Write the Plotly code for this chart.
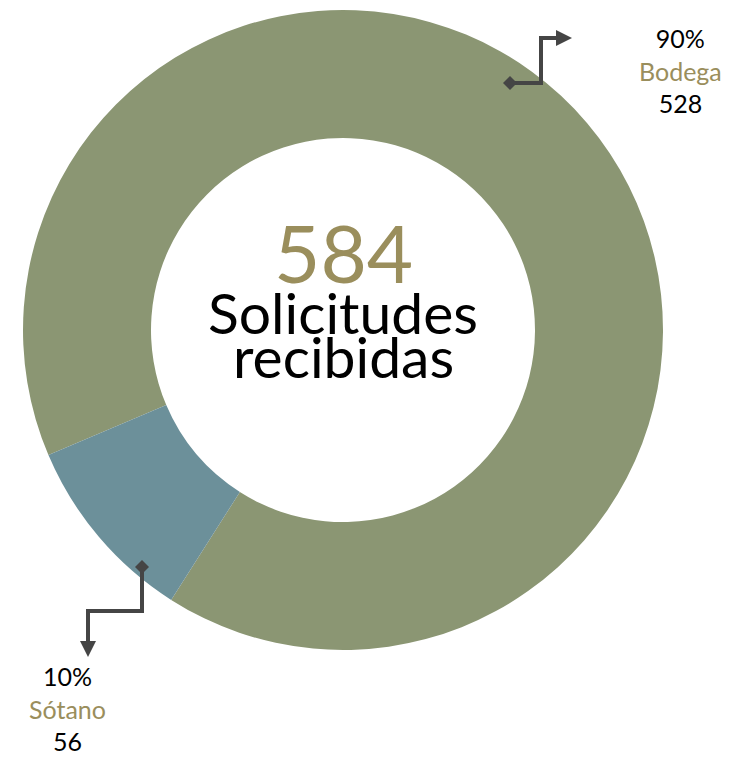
import plotly.graph_objects as go

labels = ["Bodega", "Sótano"]
values = [528, 56]
colors = ["#8b9673", "#6c909a"]
center_lines = ["Solicitudes", "recibidas"]

W, H = 750, 757
def px(x): return x / W
def py(y): return 1 - y / H

total = sum(values)
pcts = [round(v / total * 100) for v in values]

cx, cy, R = 343, 330, 320
fig = go.Figure(go.Pie(
    labels=labels, values=values, hole=0.6, sort=False,
    direction="clockwise", rotation=247,
    marker=dict(colors=colors, line=dict(width=0)),
    textinfo="none", showlegend=False,
    domain=dict(x=[px(cx - R), px(cx + R)], y=[py(cy + R), py(cy - R)]),
))

FONT = "Lato"
OLIVE = "#9a8e5c"
LINE = "#454545"

ann = []
ann.append(dict(x=px(cx), y=py(252), text=str(total), showarrow=False,
                font=dict(family=FONT, size=80, color=OLIVE), xanchor="center", yanchor="middle"))
ann.append(dict(x=px(cx), y=py(312), text=center_lines[0], showarrow=False,
                font=dict(family=FONT, size=57, color="#000000"), xanchor="center", yanchor="middle"))
ann.append(dict(x=px(cx), y=py(356), text=center_lines[1], showarrow=False,
                font=dict(family=FONT, size=57, color="#000000"), xanchor="center", yanchor="middle"))

# labels (one block per slice)
label_pos = {"Bodega": (680, 70), "Sótano": (67, 708)}
for lab, v, p in zip(labels, values, pcts):
    x, yy = label_pos[lab]
    txt = f"{p}%<br><span style='color:{OLIVE}'>{lab}</span><br>{v}"
    ann.append(dict(x=px(x), y=py(yy), text=txt, showarrow=False, align="center",
                    font=dict(family=FONT, size=25, color="#000000"),
                    xanchor="center", yanchor="middle"))

def path(points):
    return "M " + " L ".join(f"{px(a)},{py(b)}" for a, b in points)

shapes = []
# Bodega callout
shapes.append(dict(type="path", xref="paper", yref="paper",
                   path=path([(510, 83), (541, 83), (541, 38), (558, 38)]),
                   line=dict(color=LINE, width=4)))
shapes.append(dict(type="path", xref="paper", yref="paper",
                   path=path([(556, 30), (556, 46), (572, 38)]) + " Z",
                   line=dict(color=LINE, width=0), fillcolor=LINE))
shapes.append(dict(type="path", xref="paper", yref="paper",
                   path=path([(510, 76), (517, 83), (510, 90), (503, 83)]) + " Z",
                   line=dict(color=LINE, width=0), fillcolor=LINE))
# Sótano callout
shapes.append(dict(type="path", xref="paper", yref="paper",
                   path=path([(142, 567), (142, 611), (88, 611), (88, 643)]),
                   line=dict(color=LINE, width=4)))
shapes.append(dict(type="path", xref="paper", yref="paper",
                   path=path([(80, 641), (96, 641), (88, 657)]) + " Z",
                   line=dict(color=LINE, width=0), fillcolor=LINE))
shapes.append(dict(type="path", xref="paper", yref="paper",
                   path=path([(142, 560), (149, 567), (142, 574), (135, 567)]) + " Z",
                   line=dict(color=LINE, width=0), fillcolor=LINE))

fig.update_layout(width=W, height=H, margin=dict(l=0, r=0, t=0, b=0),
                  paper_bgcolor="white", plot_bgcolor="white",
                  annotations=ann, shapes=shapes)
fig.write_html("out.html", config={"displayModeBar": False},
               post_script="document.body.style.margin='0';document.body.style.overflow='hidden';")
